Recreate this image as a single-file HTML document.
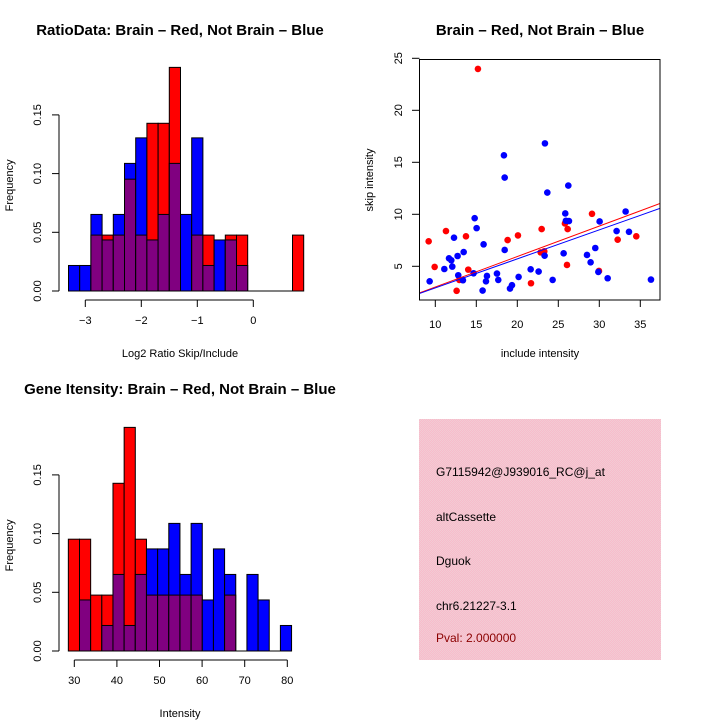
<!DOCTYPE html>
<html><head><meta charset="utf-8"><style>
body{margin:0;background:#fff}
svg{display:block;font-family:"Liberation Sans",sans-serif}
</style></head><body>
<svg id="c" width="720" height="720" viewBox="0 0 720 720"></svg>
<script>
// ---- Ratio histogram data (frequency per bin) ----
const ratioBinStart = -3.3;
const ratioBinWidth = 0.2;
const ratioRed  = [0,0,1,1,1,2,1,3,3,4,0,1,1,0,1,1,0,0,0,0,1].map(v=>v/21);
const ratioBlue = [1,1,3,2,3,5,6,2,3,5,3,6,1,2,2,1,0,0,0,0,0].map(v=>v/46);
const ratioXTicks = [-3,-2,-1,0];
const freqTicks = [0,0.05,0.10,0.15];
const freqTickLabels = ["0.00","0.05","0.10","0.15"];
// ---- Intensity histogram data ----
const intBinStart = 28.6;
const intBinWidth = 2.62;
const intRed  = [2,2,1,1,3,4,2,1,1,1,1,1,0,0,1,0,0,0,0,0].map(v=>v/21);
const intBlue = [0,2,0,1,3,1,3,4,4,5,3,5,2,4,3,0,3,2,0,1].map(v=>v/46);
const intXTicks = [30,40,50,60,70,80];
// ---- Scatter data ----
const redX = [9.19,9.92,11.3,15.2,13.74,14.02,12.93,12.6,18.82,20.08,21.67,22.97,22.85,23.29,25.81,26.14,26.06,29.11,29.96,32.24,34.51];
const redY = [7.4,4.94,8.39,23.98,7.88,4.68,3.69,2.64,7.52,7.97,3.37,8.58,6.34,6.44,9.12,8.58,5.13,10.05,4.55,7.56,7.88];
const blueX = [9.31,11.1,12.28,11.67,11.95,12.07,12.72,13.46,12.8,13.37,14.67,14.8,15.04,15.77,15.89,16.3,16.18,17.52,17.68,18.37,18.46,18.46,19.11,19.35,20.16,21.63,22.6,23.33,23.37,23.66,24.31,25.65,25.85,25.93,26.3,26.22,28.5,28.94,29.51,29.88,30.04,31.02,32.11,33.21,33.62,36.3];
const blueY = [3.56,4.74,7.75,5.77,5.58,4.97,5.99,6.37,4.14,3.66,4.33,9.63,8.67,2.67,7.11,4.07,3.56,4.3,3.69,15.67,13.53,6.57,2.86,3.18,3.98,4.71,4.49,6.02,16.82,12.09,3.69,6.25,10.08,9.38,9.35,12.76,6.09,5.38,6.76,4.46,9.31,3.85,8.39,10.27,8.32,3.72];
const redFit = [0.08,0.293];   // intercept, slope
const blueFit = [0.134,0.279];
const scXTicks = [10,15,20,25,30,35];
const scYTicks = [5,10,15,20,25];
// ---- Info text ----
const infoLines = ["G7115942@J939016_RC@j_at","altCassette","Dguok","chr6.21227-3.1"];

const svg=document.getElementById('c');
const NS='http://www.w3.org/2000/svg';
function mk(tag,attrs,parent){const e=document.createElementNS(NS,tag);for(const k in attrs)e.setAttribute(k,attrs[k]);(parent||svg).appendChild(e);return e;}
function txt(s,attrs,parent){const e=mk('text',attrs,parent);e.textContent=s;return e;}

const defs=mk('defs',{});
const pat=mk('pattern',{id:'hatch',width:2,height:2,patternUnits:'userSpaceOnUse'},defs);
mk('rect',{width:2,height:2,fill:'#f8bccb'},pat);
mk('rect',{width:1,height:1,fill:'#f2cbd4'},pat);
mk('rect',{x:1,y:1,width:1,height:1,fill:'#f2cbd4'},pat);

function histogram(g,cfg){
  const {start,width,red,blue,xTicks,x0,x1unit,base,yscale,title,xlabel,axisY,titleY,xlabY,nameP}=cfg;
  const X=v=>x0+(v-cfg.xRef)*x1unit;
  const Y=v=>base-v*yscale;
  const bw=width*x1unit;
  for(let i=0;i<red.length;i++){
    const bx=X(start+i*width);
    const r=red[i],b=blue[i];
    const hi=Math.max(r,b),lo=Math.min(r,b);
    if(hi>0){
      const e=mk('rect',{x:bx,y:Y(hi),width:bw,height:Y(0)-Y(hi),fill:r>=b?'#ff0000':'#0000ff',stroke:'#000','stroke-width':1},g);
      
      
    }
    if(lo>0){
      const e=mk('rect',{x:bx,y:Y(lo),width:bw,height:Y(0)-Y(lo),fill:'#800080',stroke:'#000','stroke-width':1},g);
      
      
    }
  }
  mk('line',{x1:X(start),x2:X(start+red.length*width),y1:base,y2:base,stroke:'#000'},g);
  const xa=mk('g',{},g);
  
  
  mk('line',{x1:X(xTicks[0]),x2:X(xTicks[xTicks.length-1]),y1:axisY,y2:axisY,stroke:'#000'},xa);
  xTicks.forEach(t=>{mk('line',{x1:X(t),x2:X(t),y1:axisY,y2:axisY+7,stroke:'#000'},xa);
    txt(String(t).replace('-','\u2212'),{x:X(t),y:axisY+24,'font-size':11,'text-anchor':'middle'},xa);});
  const ya=mk('g',{},g);
  
  
  mk('line',{x1:59,x2:59,y1:Y(freqTicks[0]),y2:Y(freqTicks[freqTicks.length-1]),stroke:'#000'},ya);
  freqTicks.forEach((t,i)=>{mk('line',{x1:52,x2:59,y1:Y(t),y2:Y(t),stroke:'#000'},ya);
    txt(freqTickLabels[i],{x:0,y:0,'font-size':11,'text-anchor':'middle',transform:`translate(41,${Y(t)}) rotate(-90)`},ya);});
  const yt=txt('Frequency',{x:0,y:0,'font-size':11,'text-anchor':'middle',transform:`translate(13,${Y(0.09)}) rotate(-90)`},g);
  
  
  const xt=txt(xlabel,{x:180,y:xlabY,'font-size':11,'text-anchor':'middle'},g);
  
  
  const tt=txt(title,{x:cfg.titleX,y:titleY,'font-size':15,'font-weight':'bold','text-anchor':'middle'},g);
  
  
}

const g1=mk('g',{});


histogram(g1,{start:ratioBinStart,width:ratioBinWidth,red:ratioRed,blue:ratioBlue,xTicks:ratioXTicks,x0:253.3,xRef:0,x1unit:56,base:291,yscale:1174,
  title:'RatioData: Brain \u2013 Red, Not Brain \u2013 Blue',xlabel:'Log2 Ratio Skip/Include',axisY:300,titleY:35,titleX:180,xlabY:357,nameP:'ratio'});

const g2=mk('g',{});


histogram(g2,{start:intBinStart,width:intBinWidth,red:intRed,blue:intBlue,xTicks:intXTicks,x0:74.3,xRef:30,x1unit:4.26,base:651,yscale:1174,
  title:'Gene Itensity: Brain \u2013 Red, Not Brain \u2013 Blue',xlabel:'Intensity',axisY:660,titleY:394,titleX:180,xlabY:717,nameP:'intensity'});

const g3=mk('g',{});


const SX=v=>435.3+(v-10)*8.2;
const SY=v=>266.3-(v-5)*10.4;
const clip=mk('clipPath',{id:'scClip'},defs);
mk('rect',{x:419.5,y:59.5,width:240.5,height:240.5},clip);
const pts=mk('g',{'clip-path':'url(#scClip)'},g3);
function fitLine(fit,color,name){
  const xa=8.05,xb=37.4;
  const l=mk('line',{x1:SX(xa),y1:SY(fit[0]+fit[1]*xa),x2:SX(xb),y2:SY(fit[0]+fit[1]*xb),stroke:color,'stroke-width':1},pts);
  
  
}
redX.forEach((x,i)=>{const c=mk('circle',{cx:SX(x),cy:SY(redY[i]),r:3.3,fill:'#ff0000'},pts);
  
  });
blueX.forEach((x,i)=>{const c=mk('circle',{cx:SX(x),cy:SY(blueY[i]),r:3.3,fill:'#0000ff'},pts);
  
  });
fitLine(redFit,'#ff0000','brain-fit-line');
fitLine(blueFit,'#0000ff','not-brain-fit-line');
mk('rect',{x:419.5,y:59.5,width:240.5,height:240.5,fill:'none',stroke:'#000'},g3);
const sxa=mk('g',{},g3);


scXTicks.forEach(t=>{mk('line',{x1:SX(t),x2:SX(t),y1:300,y2:307,stroke:'#000'},sxa);
  txt(String(t),{x:SX(t),y:328,'font-size':11,'text-anchor':'middle'},sxa);});
const sya=mk('g',{},g3);


scYTicks.forEach(t=>{mk('line',{x1:412,x2:419.5,y1:SY(t),y2:SY(t),stroke:'#000'},sya);
  txt(String(t),{x:0,y:0,'font-size':11,'text-anchor':'middle',transform:`translate(402,${SY(t)}) rotate(-90)`},sya);});
const sxt=txt('include intensity',{x:540,y:357,'font-size':11,'text-anchor':'middle'},g3);


const syt=txt('skip intensity',{x:0,y:0,'font-size':11,'text-anchor':'middle',transform:'translate(373,180) rotate(-90)'},g3);


const stt=txt('Brain \u2013 Red, Not Brain \u2013 Blue',{x:540,y:35,'font-size':15,'font-weight':'bold','text-anchor':'middle'},g3);



const g4=mk('g',{});


mk('rect',{x:419,y:419,width:242,height:241,fill:'url(#hatch)'},g4);
const lineY=[476,521,565,610];
infoLines.forEach((s,i)=>{const t=txt(s,{x:436,y:lineY[i],'font-size':12,fill:'#000'},g4);
  
  });
const pv=txt('Pval: 2.000000',{x:436,y:642,'font-size':12,fill:'#8b0000'},g4);


</script>
</body></html>
